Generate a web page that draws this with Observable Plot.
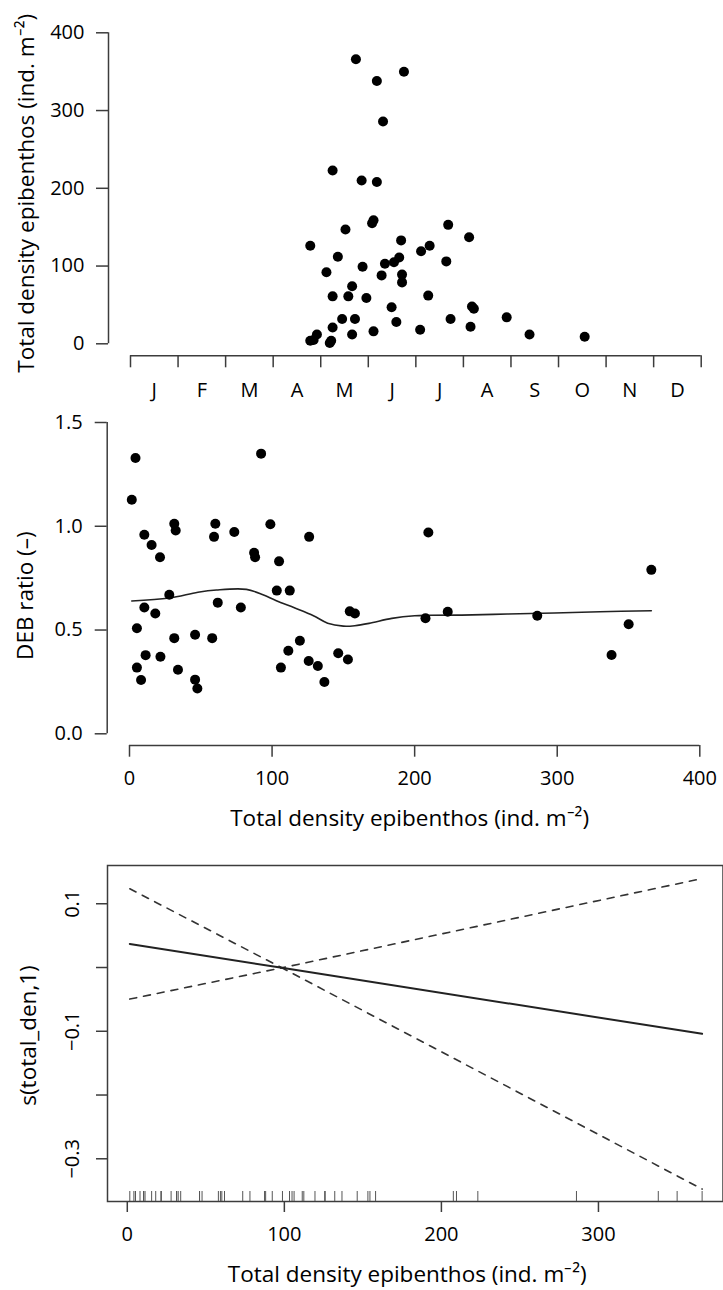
<!DOCTYPE html>
<html><head><meta charset="utf-8">
<script src="https://cdn.jsdelivr.net/npm/d3@7"></script>
<script src="https://cdn.jsdelivr.net/npm/@observablehq/plot@0.6"></script>
<style>
body{margin:0;background:#fff;}
#wrap{position:relative;width:723px;height:1290px;overflow:hidden;}
#wrap > svg{position:absolute;left:0;}
</style></head><body><div id="wrap"></div>
<script>
// ---- data ----
const monthLabels = ["J","F","M","A","M","J","J","A","S","O","N","D"];
const monthTicks = [0,1,2,3,4,5,6,7,8,9,10,11,12];
const densityTicks = [0,100,200,300,400];
// panel 1: sampling time (fractional month) vs total density
const sampleMonth = [3.78,3.78,3.85,3.92,4.12,4.19,4.22,4.25,4.25,4.25,4.36,4.45,4.52,4.58,4.66,4.66,4.72,4.74,4.86,4.88,4.96,5.08,5.11,5.11,5.18,5.18,5.28,5.31,5.35,5.49,5.54,5.59,5.65,5.69,5.71,5.71,5.75,6.09,6.11,6.26,6.29,6.64,6.68,6.73,7.12,7.15,7.18,7.22,7.91,8.39,9.55];
const sampleDensity = [126,4,5,12,92,1,4,223,61,21,112,32,147,61,74,12,32,366,210,99,59,155,159,16,338,208,88,286,103,47,105,28,111,133,89,79,350,18,119,62,126,106,153,32,137,22,48,45,34,12,9];
// panel 2: total density vs DEB ratio
const debDensity = [1.6,4.2,5.2,5.2,8.1,10.4,10.4,11.3,15.5,18.1,21.4,21.7,27.9,31.4,32.4,31.4,34.0,46.0,46.0,47.6,58.0,59.3,60.2,61.9,73.5,78.1,87.4,88.1,92.3,98.8,103.3,104.9,106.2,111.4,112.4,119.5,125.7,126.0,132.1,136.7,146.4,153.2,154.5,158.1,207.6,209.6,223.2,286.0,338.1,350.1,366.0];
const debRatio = [1.128,1.329,0.509,0.319,0.259,0.959,0.609,0.379,0.910,0.580,0.851,0.371,0.670,1.012,0.980,0.461,0.309,0.477,0.261,0.218,0.461,0.949,1.012,0.632,0.972,0.609,0.872,0.851,1.350,1.010,0.690,0.831,0.319,0.400,0.690,0.448,0.351,0.949,0.327,0.250,0.388,0.358,0.590,0.580,0.557,0.970,0.588,0.569,0.380,0.528,0.790];
const ratioTicks = [0,0.5,1,1.5];
// panel 2: smoother
const loessDensity = [1.6,27.9,48,61,82,93.6,103,116,129,139,150,158,168,184,200,210,233,265,298,330,366];
const loessRatio = [0.640,0.654,0.682,0.693,0.696,0.670,0.641,0.606,0.569,0.533,0.519,0.521,0.532,0.556,0.569,0.571,0.572,0.577,0.582,0.588,0.593];
// panel 3: GAM smooth term with confidence band
const gamDensity = [1.6, 98.4, 366];
const gamFit = [0.037, -0.0005, -0.104];
const gamUpper = [0.1235, -0.0005, 0.1395];
const gamLower = [-0.0495, -0.0005, -0.3475];
const gamTicksX = [0,100,200,300];
const gamTicksY = [-0.3,-0.2,-0.1,0,0.1];
const gamLabelsY = [0.1,-0.1,-0.3];

const xTitle = "Total density epibenthos (ind. m\u207B\u00B2)";
const font = "'Open Sans', sans-serif";
const fs = 20;
const tfs = 22.5;
const ink = "#000";
const axisCol = "#3c3c3c";
const baseStyle = {fontFamily: font, fontSize: fs + "px", color: ink, background: "transparent", overflow: "visible"};
const wrap = document.getElementById("wrap");
function place(svg, top){ svg.style.top = top + "px"; wrap.appendChild(svg); }
const minus = d => d3.format(".1f")(d).replace("-", "\u2212");
const titleOpts = {text: d => d, fill: ink, lineAnchor: "middle", textAnchor: "middle", fontSize: tfs};

// ---- panel 1 ----
const p1data = sampleMonth.map((m,i) => ({m, d: sampleDensity[i]}));
const p1 = Plot.plot({
  width: 723, height: 400,
  marginLeft: 130, marginRight: 22.3, marginTop: 32.3, marginBottom: 56.7,
  style: baseStyle,
  x: {domain: [0,12], axis: null},
  y: {domain: [0,400], axis: null},
  marks: [
    Plot.ruleX([0], {y1: 0, y2: 400, dx: -22, stroke: axisCol, strokeWidth: 1.5}),
    Plot.axisY(densityTicks, {tickSize: 12, dx: -22, tickPadding: 12, stroke: axisCol, strokeWidth: 1.5, fill: ink, label: null}),
    Plot.ruleY([0], {x1: 0, x2: 12, dy: 12, stroke: axisCol, strokeWidth: 1.5}),
    Plot.axisX(monthTicks, {tickSize: 12, dy: 12, tickFormat: () => "", stroke: axisCol, strokeWidth: 1.5, label: null}),
    Plot.text(monthLabels, {x: (d,i) => i + 0.5, y: 0, dy: 47, text: d => d, fill: ink, lineAnchor: "middle"}),
    Plot.dot(p1data, {x: "m", y: "d", r: 5, fill: ink, stroke: "none"}),
    Plot.text([xTitle], {frameAnchor: "left", dx: -103.5, dy: 5, rotate: -90, ...titleOpts})
  ]
});
place(p1, 0);

// ---- panel 2 ----
const p2data = debDensity.map((d,i) => ({d, r: debRatio[i]}));
const p2line = loessDensity.map((d,i) => ({d, r: loessRatio[i]}));
const p2 = Plot.plot({
  width: 723, height: 445,
  marginLeft: 129, marginRight: 23.7, marginTop: 22, marginBottom: 111.7,
  style: baseStyle,
  x: {domain: [0,400], axis: null},
  y: {domain: [0,1.5], axis: null},
  marks: [
    Plot.ruleX([0], {y1: 0, y2: 1.5, dx: -22.3, stroke: axisCol, strokeWidth: 1.5}),
    Plot.axisY(ratioTicks, {tickSize: 12, dx: -22.3, tickPadding: 12.5, tickFormat: d3.format(".1f"), stroke: axisCol, strokeWidth: 1.5, fill: ink, label: null}),
    Plot.ruleY([0], {x1: 0, x2: 400, dy: 11.7, stroke: axisCol, strokeWidth: 1.5}),
    Plot.axisX(densityTicks, {tickSize: 11.7, dy: 11.7, tickPadding: 14, stroke: axisCol, strokeWidth: 1.5, fill: ink, label: null}),
    Plot.line(p2line, {x: "d", y: "r", curve: "catmull-rom", stroke: "#222", strokeWidth: 1.6}),
    Plot.dot(p2data, {x: "d", y: "r", r: 5, fill: ink, stroke: "none"}),
    Plot.text(["DEB ratio (\u2013)"], {frameAnchor: "left", dx: -104, dy: 17.5, rotate: -90, ...titleOpts}),
    Plot.text([xTitle], {frameAnchor: "bottom", dx: -5, dy: 84.7, ...titleOpts})
  ]
});
place(p2, 400);

// ---- panel 3 ----
const band = gamDensity.map((d,i) => ({d, fit: gamFit[i], up: gamUpper[i], lo: gamLower[i]}));
const p3 = Plot.plot({
  width: 723, height: 440,
  marginLeft: 107, marginRight: 0.5, marginTop: 20, marginBottom: 84,
  style: baseStyle,
  x: {domain: [-12.6, 379.3], axis: null},
  y: {domain: [-0.367, 0.160], axis: null},
  marks: [
    Plot.frame({stroke: axisCol, strokeWidth: 1.5}),
    Plot.axisY(gamTicksY, {tickSize: 11, tickFormat: () => "", stroke: axisCol, strokeWidth: 1.5, label: null}),
    Plot.text(gamLabelsY, {y: d => d, frameAnchor: "left", dx: -35, rotate: -90, text: minus, fill: ink, lineAnchor: "middle", textAnchor: "middle"}),
    Plot.axisX(gamTicksX, {tickSize: 11, tickPadding: 14, stroke: axisCol, strokeWidth: 1.5, fill: ink, label: null}),
    Plot.tickX(debDensity, {x: d => d, insetTop: 326, stroke: "#555", strokeWidth: 1}),
    Plot.line(band, {x: "d", y: "up", stroke: "#333", strokeWidth: 1.6, strokeDasharray: "7,7"}),
    Plot.line(band, {x: "d", y: "lo", stroke: "#333", strokeWidth: 1.6, strokeDasharray: "7,7"}),
    Plot.line(band, {x: "d", y: "fit", stroke: "#222", strokeWidth: 2}),
    Plot.text(["s(total_den,1)"], {frameAnchor: "left", dx: -79, dy: 2, rotate: -90, ...titleOpts}),
    Plot.text([xTitle], {frameAnchor: "bottom", dx: -8, dy: 73, ...titleOpts})
  ]
});
place(p3, 845);
</script></body></html>
